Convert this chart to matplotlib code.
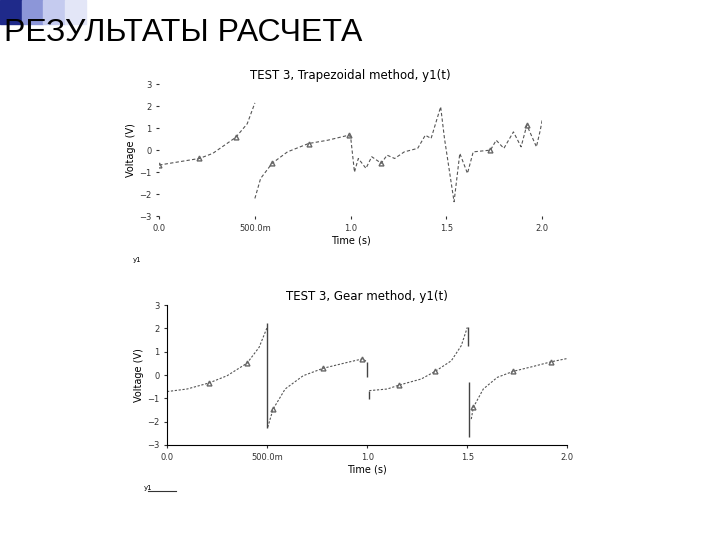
import numpy as np
import matplotlib
matplotlib.use("Agg")
import matplotlib.pyplot as plt
from matplotlib.patches import Rectangle

nan = np.nan
# Top chart (Trapezoidal)
t_trap = [0.0, 0.21, 0.28, 0.40, 0.46, 0.50, nan,
          0.50, 0.53, 0.59, 0.67, 0.78, 0.88, 0.99, 1.0,
          1.02, 1.04, 1.08, 1.11, 1.16, 1.19, 1.23, 1.28, 1.35, 1.39, 1.42, 1.47, 1.49,
          1.54, 1.57, 1.61, 1.64, 1.73, 1.76, 1.80, 1.85, 1.89, 1.92, 1.97, 1.99, 2.0]
y_trap = [-0.68, -0.38, -0.15, 0.58, 1.2, 2.15, nan,
          -2.2, -1.29, -0.6, -0.08, 0.3, 0.45, 0.68, 0.6,
          -1.0, -0.38, -0.83, -0.3, -0.6, -0.23, -0.38, -0.08, 0.08, 0.68, 0.53, 1.97, 0.53,
          -2.35, -0.15, -1.06, -0.08, 0.0, 0.45, 0.08, 0.83, 0.15, 1.14, 0.15, 0.9, 1.36]
mk_trap_t = [0.0, 0.21, 0.40, 0.59, 0.78, 0.99, 1.16, 1.73, 1.92]
mk_trap_y = [-0.68, -0.38, 0.58, -0.6, 0.3, 0.68, -0.6, 0.0, 1.14]

# Bottom chart (Gear)
t_gear = [0.0, 0.1, 0.21, 0.3, 0.4, 0.46, 0.5, nan,
          0.503, 0.53, 0.59, 0.68, 0.78, 0.9, 0.975, 1.0, nan,
          1.01, 1.1, 1.16, 1.27, 1.34, 1.42, 1.47, 1.5, nan,
          1.52, 1.53, 1.58, 1.65, 1.73, 1.83, 1.92, 2.0]
y_gear = [-0.71, -0.6, -0.34, -0.03, 0.51, 1.19, 2.04, nan,
          -2.24, -1.46, -0.6, -0.03, 0.29, 0.54, 0.69, 0.57, nan,
          -0.67, -0.6, -0.43, -0.17, 0.16, 0.61, 1.26, 2.04, nan,
          -1.89, -1.39, -0.6, -0.1, 0.16, 0.37, 0.57, 0.71]
v_gear_t = [0.497, 1.0, 1.008, 1.503, 1.51]
v_gear_lo = [-2.29, -0.1, -1.03, 1.26, -2.67]
v_gear_hi = [2.23, 0.57, -0.67, 2.08, -0.31]
mk_gear_t = [0.21, 0.40, 0.53, 0.78, 0.975, 1.16, 1.34, 1.53, 1.73, 1.92]
mk_gear_y = [-0.34, 0.51, -1.46, 0.29, 0.69, -0.43, 0.16, -1.39, 0.16, 0.57]

xticks = [0.0, 0.5, 1.0, 1.5, 2.0]
xticklabels = ["0.0", "500.0m", "1.0", "1.5", "2.0"]
yticks = [-3, -2, -1, 0, 1, 2, 3]

fig = plt.figure(figsize=(7.2, 5.4), dpi=100)
# slide decoration
for (x, y, w, h, c) in [(0.0, 0.955, 0.03, 0.045, "#1f2a8a"), (0.03, 0.955, 0.03, 0.045, "#8c96d8"),
                        (0.06, 0.955, 0.03, 0.045, "#c5cbef"), (0.09, 0.955, 0.03, 0.045, "#e3e6f7")]:
    fig.patches.append(Rectangle((x, y), w, h, transform=fig.transFigure, color=c, zorder=0))
fig.text(0.005, 0.938, "РЕЗУЛЬТАТЫ РАСЧЕТА", fontsize=23, family="Liberation Sans", va="center")

def style(ax, spines):
    ax.set_xlim(0, 2)
    ax.set_ylim(-3, 3)
    ax.set_xticks(xticks)
    ax.set_xticklabels(xticklabels)
    ax.set_yticks(yticks)
    ax.tick_params(labelsize=6, length=2, colors="#333333")
    for s in ax.spines.values():
        s.set_visible(False)
    if spines:
        ax.spines["left"].set_visible(True)
        ax.spines["bottom"].set_visible(True)

ax1 = fig.add_axes([0.221, 0.60, 0.532, 0.244])
ax1.plot(t_trap, y_trap, color="#555555", lw=0.8, ls=(0, (3, 2)))
ax1.plot(mk_trap_t, mk_trap_y, ls="none", marker="^", mfc="none", mec="#666666", ms=3.5)
style(ax1, False)
ax1.set_title("TEST 3, Trapezoidal method, y1(t)", fontsize=8.5, pad=4)
ax1.set_xlabel("Time (s)", fontsize=7, labelpad=2)
ax1.set_ylabel("Voltage (V)", fontsize=7, labelpad=2)
fig.text(0.185, 0.515, "y1", fontsize=5)

ax2 = fig.add_axes([0.232, 0.176, 0.556, 0.259])
ax2.plot(t_gear, y_gear, color="#555555", lw=0.8, ls=(0, (2, 1.5)))
ax2.vlines(v_gear_t, v_gear_lo, v_gear_hi, color="#444444", lw=1)
ax2.plot(mk_gear_t, mk_gear_y, ls="none", marker="^", mfc="none", mec="#666666", ms=3.5)
style(ax2, True)
ax2.set_title("TEST 3, Gear method, y1(t)", fontsize=8.5, pad=4)
ax2.set_xlabel("Time (s)", fontsize=7, labelpad=2)
ax2.set_ylabel("Voltage (V)", fontsize=7, labelpad=2)
fig.text(0.2, 0.093, "y1", fontsize=5)
fig.add_artist(plt.Line2D([0.205, 0.245], [0.09, 0.09], color="#333333", lw=0.8))

fig.savefig("out.png", dpi=100)
